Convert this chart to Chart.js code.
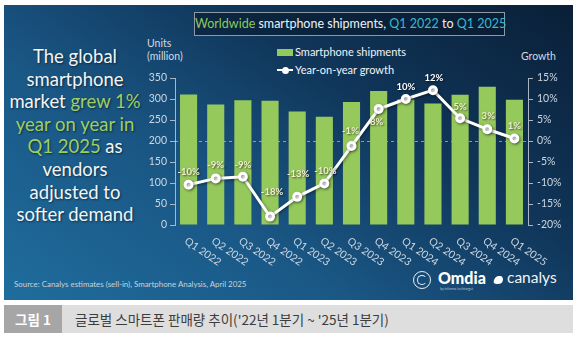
<!DOCTYPE html>
<html><head><meta charset="utf-8">
<script src="https://cdn.jsdelivr.net/npm/chart.js@4"></script>
<style>
html,body{margin:0;padding:0;background:#fff;width:577px;height:340px;overflow:hidden;font-family:Lato,"Noto Sans",sans-serif;}
#panel{position:absolute;left:4px;top:5px;width:569px;height:295px;
 background:linear-gradient(35deg,#1f6d9d 0%,#1a5785 35%,#10365a 65%,#0a1f37 100%);}
#cv{position:absolute;left:0;top:0;}
.t{position:absolute;white-space:nowrap;}
#lead{left:4px;top:45px;width:142px;text-align:center;color:#f2f4f6;font-size:18.5px;line-height:22.6px;text-shadow:1px 1px 2px rgba(0,0,0,.5);}
#lead .g{color:#9fcf63;}
#title{left:194px;top:12px;width:309px;height:22px;border:1px solid #8d9aa6;background:rgba(8,24,42,.55);color:#eef2f5;font-size:12.5px;line-height:22px;text-align:center;}
#title .g{color:#8fc95a;} #title .c{color:#3fb7cc;}
#units{left:147px;top:37px;color:#d3dae1;font-size:10.5px;line-height:13px;}
#growth{left:521px;top:50px;color:#d3dae1;font-size:10.5px;}
#leg1{left:277px;top:45px;color:#f2f4f6;font-size:11px;line-height:13px;}
#leg2{left:277px;top:63px;color:#f2f4f6;font-size:11px;line-height:13px;}
.sw{display:inline-block;width:16px;height:7px;background:#96c95c;margin-right:2px;vertical-align:0px;}
.ln{display:inline-block;position:relative;width:16px;height:2px;background:#fff;margin-right:2px;vertical-align:3px;}
.ln:after{content:"";position:absolute;left:5px;top:-2.5px;width:7px;height:7px;border-radius:50%;background:#fff;}
#src{left:14px;top:279px;color:#c9d2da;font-size:7.9px;}
#omdia{left:438px;top:268px;color:#fff;font-weight:900;font-size:16px;font-family:Lato,sans-serif;}
#omsub{left:440px;top:287px;color:#b8c4d0;font-size:3.5px;}
#circ{left:413px;top:271px;width:16px;height:16px;border:1.5px solid #e8eef3;border-radius:50%;}
#circ2{left:417px;top:275px;width:8px;height:8px;border:1.5px solid #e8eef3;border-radius:50%;border-right-color:transparent;}
#canalys{left:507px;top:268px;color:#f2f4f6;font-size:15.5px;font-family:Lato,sans-serif;}
#cicon{left:494px;top:276px;width:9px;height:8px;background:#fff;border-radius:5px 5px 5px 5px / 6px 6px 4px 4px;transform:skewX(-15deg);}
#cap{position:absolute;left:4px;top:305px;width:569px;height:28px;background:#dedede;}
#capbox{position:absolute;left:4px;top:305px;width:58px;height:28px;background:#a6a6a6;color:#fff;font-weight:bold;font-size:13.5px;line-height:28px;text-align:center;font-family:"Noto Sans CJK KR",sans-serif;}
#captxt{left:75px;top:305px;line-height:28px;color:#3d3d3d;font-size:13.5px;font-family:"Noto Sans CJK KR",sans-serif;}
</style></head>
<body>
<div id="panel"></div>
<div id="cap"></div>
<div id="capbox">그림 1</div>
<div class="t" id="captxt">글로벌 스마트폰 판매량 추이('22년 1분기 ~ '25년 1분기)</div>
<div class="t" id="lead">The global<br>smartphone<br>market <span class="g">grew 1%</span><br><span class="g">year on year in</span><br><span class="g">Q1 2025</span> as<br>vendors<br>adjusted to<br>softer demand</div>
<div class="t" id="title"><span class="g">Worldwide</span> smartphone shipments, <span class="c">Q1 2022</span> to <span class="c">Q1 2025</span></div>
<div class="t" id="units">Units<br>(million)</div>
<div class="t" id="growth">Growth</div>
<div class="t" id="leg1"><span class="sw"></span>Smartphone shipments</div>
<div class="t" id="leg2"><span class="ln"></span>Year-on-year growth</div>
<div class="t" id="src">Source: Canalys estimates (sell-in), Smartphone Analysis, April 2025</div>
<div class="t" id="circ"></div><div class="t" id="circ2"></div>
<div class="t" id="omdia">Omdia</div>
<div class="t" id="omsub">by informa techtarget</div>
<div class="t" id="cicon"></div>
<div class="t" id="canalys">canalys</div>
<canvas id="cv" width="577" height="340"></canvas>
<script>
const categories = ['Q1 2022','Q2 2022','Q3 2022','Q4 2022','Q1 2023','Q2 2023','Q3 2023','Q4 2023','Q1 2024','Q2 2024','Q3 2024','Q4 2024','Q1 2025'];
const shipments = [311, 287, 297, 296, 270, 258, 293, 319, 299, 289, 310, 329, 298];
const growth = [-10.4, -8.9, -8.5, -18, -13.3, -10.1, -1.2, 7.6, 10, 12.1, 5.4, 2.8, 0.6];
const growthLabels = ['-10%','-9%','-9%','-18%','-13%','-10%','-1%','8%','10%','12%','5%','3%','1%'];
const unitTicks = [0,50,100,150,200,250,300,350];
const growthTicks = [-20,-15,-10,-5,0,5,10,15];

const labelDy = [-13,-13,-12,-25,-23,-12,-15,13,-12,-12,-11,-13,-13];
const labelDx = [0,0,0,2,1,1,-1,-2,0,1,0,1,0];
const axisCol = '#aab6c2';
const tickFont = {family:'Lato', size:10.5};

const overlay = {
  id:'overlay',
  beforeDatasetsDraw(chart){
    const {ctx, chartArea:a, scales} = chart;
    const y = scales.y.getPixelForValue(200);
    ctx.save();
    ctx.strokeStyle='rgba(230,236,242,0.55)';
    ctx.lineWidth=1;
    ctx.setLineDash([3,3]);
    ctx.beginPath();ctx.moveTo(a.left,y+0.5);ctx.lineTo(a.right,y+0.5);ctx.stroke();
    ctx.restore();
  },
  beforeDatasetDraw(chart,args){
    if(args.index===1){chart.ctx.save();chart.ctx.shadowColor='rgba(0,0,0,0.45)';chart.ctx.shadowBlur=3;chart.ctx.shadowOffsetX=1;chart.ctx.shadowOffsetY=1;}
  },
  afterDatasetDraw(chart,args){ if(args.index===1) chart.ctx.restore(); },
  afterDatasetsDraw(chart){
    const {ctx, scales} = chart;
    const meta = chart.getDatasetMeta(1);
    ctx.save();
    ctx.font='bold 9.5px Lato';
    ctx.textAlign='center';ctx.textBaseline='middle';
    ctx.shadowColor='rgba(0,0,0,0.6)';ctx.shadowBlur=2;ctx.shadowOffsetX=1;ctx.shadowOffsetY=1;
    meta.data.forEach((p,i)=>{
      ctx.fillStyle = (i===8||i===9)?'#ffffff':'#f1eed2';
      ctx.fillText(growthLabels[i], p.x+labelDx[i], p.y+labelDy[i]);
    });
    ctx.restore();
    ctx.save();
    ctx.font='10.5px Lato';ctx.fillStyle='#cdd7e0';ctx.textAlign='left';ctx.textBaseline='middle';
    const yb = scales.y.getPixelForValue(0);
    categories.forEach((c,i)=>{
      const x = scales.x.getPixelForValue(i);
      ctx.save();ctx.translate(x-3, yb+15);ctx.rotate(34*Math.PI/180);ctx.fillText(c,0,0);ctx.restore();
    });
    ctx.restore();
  }
};

new Chart(document.getElementById('cv'),{
  data:{labels:categories,datasets:[
    {type:'bar',label:'Smartphone shipments',data:shipments,backgroundColor:'#96c95c',yAxisID:'y',order:2,barPercentage:0.63,categoryPercentage:1},
    {type:'line',label:'Year-on-year growth',data:growth,yAxisID:'y1',order:1,borderColor:'#ffffff',borderWidth:3,
     pointRadius:3.5,pointBackgroundColor:'#ffffff',pointBorderColor:'#ffffff',tension:0}
  ]},
  options:{
    responsive:false,animation:false,devicePixelRatio:1,
    layout:{padding:{left:0,right:0,top:78,bottom:115}},
    plugins:{legend:{display:false},tooltip:{enabled:false}},
    scales:{
      x:{offset:true,ticks:{display:false},grid:{display:false},border:{display:false},afterFit:s=>{s.height=0;}},
      y:{position:'left',min:0,max:350,afterBuildTicks:s=>{s.ticks=unitTicks.map(v=>({value:v}));},
         ticks:{color:'#cdd7e0',font:tickFont,padding:3},
         grid:{drawOnChartArea:false,color:axisCol,tickLength:5,tickWidth:1},
         border:{color:axisCol,width:1},afterFit:s=>{s.width=175;}},
      y1:{position:'right',min:-20,max:15,afterBuildTicks:s=>{s.ticks=growthTicks.map(v=>({value:v}));},
         ticks:{color:'#cdd7e0',font:tickFont,padding:4,callback:v=>v+'%'},
         grid:{drawOnChartArea:false,color:axisCol,tickLength:5,tickWidth:1},
         border:{color:axisCol,width:1},afterFit:s=>{s.width=49;}}
    }
  },
  plugins:[overlay]
});
</script>
</body></html>
